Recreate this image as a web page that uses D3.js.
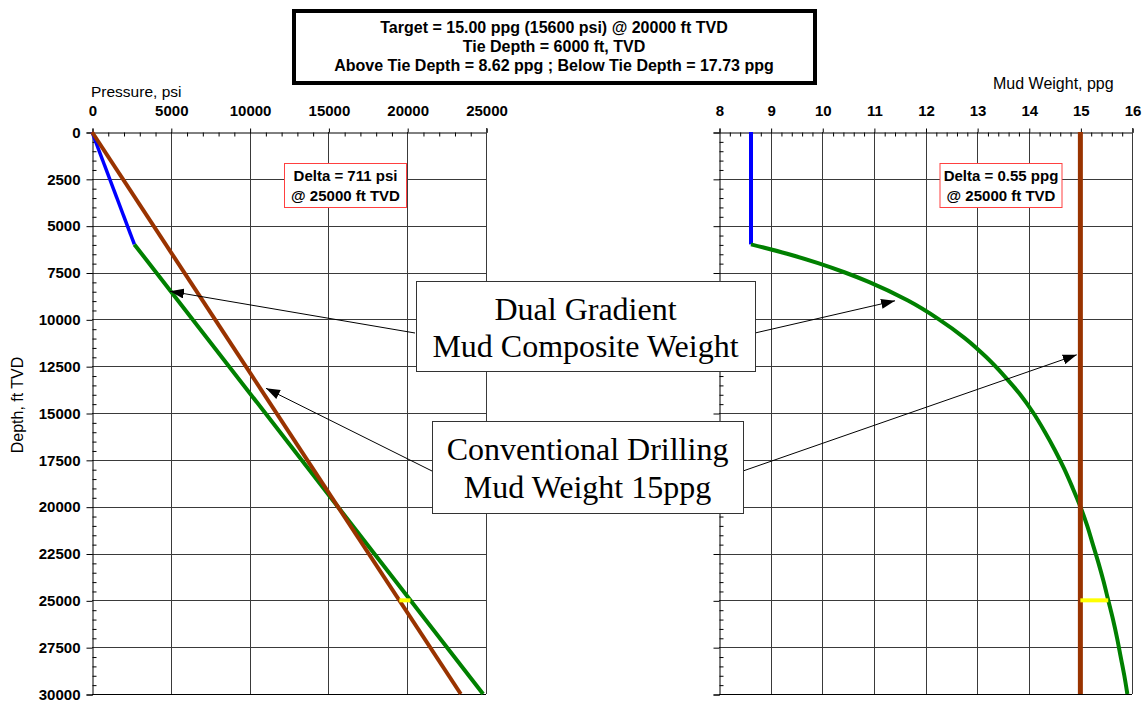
<!DOCTYPE html>
<html>
<head>
<meta charset="utf-8">
<script src="https://cdn.jsdelivr.net/npm/d3@7"></script>
<style>
  html, body { margin: 0; padding: 0; background: #fff; }
  svg { display: block; }
</style>
</head>
<body>
<svg id="chart" width="1146" height="702"></svg>
<script>
// ---- data ----
const pressureTicks = [0, 5000, 10000, 15000, 20000, 25000];
const mudTicks = [8, 9, 10, 11, 12, 13, 14, 15, 16];
const depthTicks = [0, 2500, 5000, 7500, 10000, 12500, 15000, 17500, 20000, 22500, 25000, 27500, 30000];

// pressure vs depth (psi, ft)
const dualAbovePressure = [[0, 0], [2689, 6000]];
const dualBelowPressure = [[2689, 6000], [15600, 20000], [24816, 30000]];
const conventionalPressure = [[0, 0], [23400, 30000]];
const deltaPressure = [[19500, 25000], [20206, 25000]];

// mud weight vs depth (ppg, ft)
const dualAboveMud = [[8.62, 0], [8.62, 6000]];
const dualBelowDepth = [6000, 6500, 7000, 7500, 8000, 9000, 10000, 11000, 12000, 13000, 14000, 15000,
  16000, 17000, 18000, 19000, 20000, 21000, 22000, 23000, 24000, 25000, 26000, 27000, 28000, 29000, 30000];
const dualBelowMudWeight = [8.62, 9.32, 9.92, 10.44, 10.90, 11.66, 12.26, 12.76, 13.17, 13.52, 13.83, 14.09,
  14.31, 14.51, 14.69, 14.85, 15.00, 15.13, 15.24, 15.35, 15.45, 15.54, 15.63, 15.71, 15.78, 15.85, 15.91];
const conventionalMud = [[15, 0], [15, 30000]];
const deltaMud = [[15, 25000], [15.54, 25000]];

const headerLines = [
  "Target = 15.00 ppg (15600 psi) @ 20000 ft TVD",
  "Tie Depth = 6000 ft, TVD",
  "Above Tie Depth = 8.62 ppg ; Below Tie Depth = 17.73 ppg"
];
const deltaPressureLines = ["Delta = 711 psi", "@ 25000 ft TVD"];
const deltaMudLines = ["Delta = 0.55 ppg", "@ 25000 ft TVD"];
const dualLabel = ["Dual Gradient", "Mud Composite Weight"];
const convLabel = ["Conventional Drilling", "Mud Weight 15ppg"];

// ---- layout ----
const SANS = "'Liberation Sans', Arial, sans-serif";
const SERIF = "'Liberation Serif', 'Times New Roman', serif";
const svg = d3.select("#chart");
const yTop = 132, yBot = 694;
const y = d3.scaleLinear().domain([0, 30000]).range([yTop, yBot]);
const xP = d3.scaleLinear().domain([0, 25000]).range([92, 486]);
const xM = d3.scaleLinear().domain([8, 16]).range([719, 1132]);

const colors = { blue: "#0000ff", green: "#008000", brown: "#993300", yellow: "#ffff00" };
const gridColor = "#3a3a3a";

function range(a, b, step) { const r = []; for (let v = a; v <= b + 1e-9; v += step) r.push(+v.toFixed(6)); return r; }

function styleLabels(sel) {
  sel.selectAll(".tick text").style("font-family", SANS).style("font-size", "15px")
    .style("font-weight", "bold").attr("fill", "#000");
}

function panel(x, xTicks, xMinorStep, yMinorStep, showYLabels) {
  const g = svg.append("g");
  const [x0, x1] = x.range();
  // grid
  g.append("g").selectAll("line").data(xTicks.slice(1)).join("line")
    .attr("x1", d => Math.round(x(d)) + 0.5).attr("x2", d => Math.round(x(d)) + 0.5)
    .attr("y1", yTop).attr("y2", yBot)
    .attr("stroke", gridColor).attr("stroke-width", 1);
  g.append("g").selectAll("line").data(depthTicks.slice(1)).join("line")
    .attr("x1", x0).attr("x2", x1)
    .attr("y1", d => Math.round(y(d)) + 0.5).attr("y2", d => Math.round(y(d)) + 0.5)
    .attr("stroke", gridColor).attr("stroke-width", 1);

  // top axis: major ticks with labels
  const top = g.append("g").attr("transform", `translate(0.5,${yTop + 0.5})`)
    .call(d3.axisTop(x).tickValues(xTicks).tickSize(4).tickPadding(13).tickFormat(d3.format("d")));
  top.select(".domain").attr("stroke", "#000");
  top.selectAll(".tick line").attr("stroke", "#000");
  styleLabels(top);
  // top axis minor ticks pointing inward
  const minorX = range(x.domain()[0], x.domain()[1], xMinorStep).filter(v => !xTicks.includes(v));
  g.append("g").attr("transform", `translate(0.5,${yTop + 0.5})`)
    .call(d3.axisTop(x).tickValues(minorX).tickSize(-4).tickFormat(""))
    .call(s => s.select(".domain").remove())
    .selectAll(".tick line").attr("stroke", "#000");

  // left axis
  const left = g.append("g").attr("transform", `translate(${x0 + 0.5},0.5)`)
    .call(d3.axisLeft(y).tickValues(depthTicks).tickSize(6).tickPadding(6)
      .tickFormat(showYLabels ? d3.format("d") : ""));
  left.select(".domain").attr("stroke", "#000");
  left.selectAll(".tick line").attr("stroke", "#000");
  styleLabels(left);
  const minorY = range(0, 30000, yMinorStep).filter(v => !depthTicks.includes(v));
  g.append("g").attr("transform", `translate(${x0 + 0.5},0.5)`)
    .call(d3.axisLeft(y).tickValues(minorY).tickSize(-4).tickFormat(""))
    .call(s => s.select(".domain").remove())
    .selectAll(".tick line").attr("stroke", "#000");

  // right border and bottom edge
  g.append("line").attr("x1", x1 + 0.5).attr("x2", x1 + 0.5).attr("y1", yTop - 4).attr("y2", yBot)
    .attr("stroke", gridColor);
  g.append("line").attr("x1", x0).attr("x2", x1).attr("y1", yBot + 0.5).attr("y2", yBot + 0.5)
    .attr("stroke", "#000");
}

panel(xP, pressureTicks, 1000, 500, true);
panel(xM, mudTicks, 0.2, 500, false);

// axis titles
function sansText(sel, size, weight) {
  return sel.style("font-family", SANS).style("font-size", size + "px").style("font-weight", weight || "normal").attr("fill", "#000");
}
sansText(svg.append("text").attr("x", 91).attr("y", 97), 15.5).text("Pressure, psi");
sansText(svg.append("text").attr("x", 993).attr("y", 89), 16).text("Mud Weight, ppg");
sansText(svg.append("text").attr("transform", "translate(23,405) rotate(-90)")
  .attr("text-anchor", "middle"), 16).text("Depth, ft TVD");

// ---- series ----
const lineP = d3.line().x(d => xP(d[0])).y(d => y(d[1]));
const lineM = d3.line().x(d => xM(d[0])).y(d => y(d[1]));
const dualBelowMud = dualBelowDepth.map((d, i) => [dualBelowMudWeight[i], d]);

const series = svg.append("g").attr("fill", "none").attr("stroke-linecap", "butt");
series.append("path").attr("d", lineP(dualAbovePressure)).attr("stroke", colors.blue).attr("stroke-width", 3.5);
series.append("path").attr("d", lineP(dualBelowPressure)).attr("stroke", colors.green).attr("stroke-width", 4);
series.append("path").attr("d", lineP(conventionalPressure)).attr("stroke", colors.brown).attr("stroke-width", 4);
series.append("path").attr("d", lineP(deltaPressure)).attr("stroke", colors.yellow).attr("stroke-width", 4);

series.append("path").attr("d", lineM(dualAboveMud)).attr("stroke", colors.blue).attr("stroke-width", 4);
series.append("path").attr("d", d3.line().curve(d3.curveMonotoneY).x(d => xM(d[0])).y(d => y(d[1]))(dualBelowMud))
  .attr("stroke", colors.green).attr("stroke-width", 4);
series.append("path").attr("d", lineM(conventionalMud)).attr("stroke", colors.brown).attr("stroke-width", 5);
series.append("path").attr("d", lineM(deltaMud)).attr("stroke", colors.yellow).attr("stroke-width", 4);

// ---- header box ----
const hdr = svg.append("g");
hdr.append("rect").attr("x", 294).attr("y", 11).attr("width", 521).attr("height", 72)
  .attr("fill", "#fff").attr("stroke", "#000").attr("stroke-width", 4);
sansText(hdr.selectAll("text").data(headerLines).join("text")
  .attr("x", 554).attr("y", (d, i) => 33 + i * 19)
  .attr("text-anchor", "middle"), 16, "bold").text(d => d);

// ---- delta boxes ----
function deltaBox(cx, lines) {
  const g = svg.append("g");
  g.append("rect").attr("x", cx - 61).attr("y", 163.5).attr("width", 122).attr("height", 44)
    .attr("fill", "#fff").attr("stroke", "#ff4040").attr("stroke-width", 1);
  sansText(g.selectAll("text").data(lines).join("text")
    .attr("x", cx).attr("y", (d, i) => 181 + i * 20)
    .attr("text-anchor", "middle"), 15, "bold").text(d => d);
}
deltaBox(345.5, deltaPressureLines);
deltaBox(1001, deltaMudLines);

// ---- annotation callouts ----
const defs = svg.append("defs");
defs.append("marker").attr("id", "arrowhead").attr("viewBox", "0 0 14 10")
  .attr("refX", 14).attr("refY", 5).attr("markerWidth", 14).attr("markerHeight", 10)
  .attr("markerUnits", "userSpaceOnUse").attr("orient", "auto")
  .append("path").attr("d", "M0,0 L14,5 L0,10 Z").attr("fill", "#000");

const arrows = [
  { from: [415, 333], to: [xP(4950), y(8500)] },
  { from: [755, 333], to: [xM(11.41), y(9010)] },
  { from: [432, 471], to: [xP(11040), y(13680)] },
  { from: [743, 471], to: [xM(14.93), y(11895)] }
];
svg.append("g").selectAll("line").data(arrows).join("line")
  .attr("x1", d => d.from[0]).attr("y1", d => d.from[1])
  .attr("x2", d => d.to[0]).attr("y2", d => d.to[1])
  .attr("stroke", "#000").attr("stroke-width", 1).attr("marker-end", "url(#arrowhead)");

function callout(x, yy, w, h, lines, baselines) {
  const g = svg.append("g");
  g.append("rect").attr("x", x + 0.5).attr("y", yy + 0.5).attr("width", w).attr("height", h)
    .attr("fill", "#fff").attr("stroke", "#333").attr("stroke-width", 1);
  g.selectAll("text").data(lines).join("text")
    .attr("x", x + w / 2).attr("y", (d, i) => baselines[i])
    .attr("text-anchor", "middle")
    .style("font-family", SERIF).style("font-size", "32px").attr("fill", "#000")
    .text(d => d);
}
callout(416, 281, 339, 90, dualLabel, [320, 357]);
callout(432, 421, 311, 92, convLabel, [460, 498]);
</script>
</body>
</html>
